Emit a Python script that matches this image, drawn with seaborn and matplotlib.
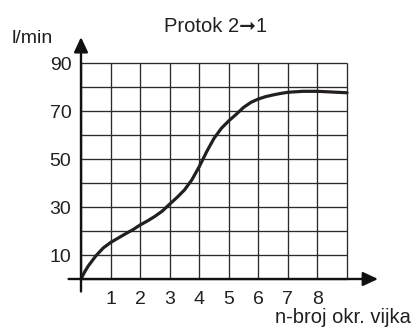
import numpy as np
import pandas as pd
import matplotlib
matplotlib.use("Agg")
import matplotlib.pyplot as plt
import seaborn as sns

# Flow vs. number of screw turns (flow direction 2 -> 1)
turns = [0, 0.125, 0.25, 0.5, 0.75, 1, 1.25, 1.5, 1.75, 2, 2.25, 2.5, 2.75, 3,
         3.25, 3.5, 3.75, 4, 4.25, 4.5, 4.75, 5, 5.25, 5.5, 5.75, 6, 6.25, 6.5,
         6.75, 7, 7.5, 8, 8.5, 9]
flow = [0, 3, 5.5, 9.6, 12.9, 15.2, 17.0, 18.8, 20.5, 22.5, 24.2, 26.1, 28.3, 31.2,
        34, 37.1, 41.3, 46.8, 53, 58.6, 62.8, 65.9, 68.6, 71.5, 73.6, 75, 76, 76.7,
        77.3, 77.8, 78.2, 78.2, 77.9, 77.6]

x_tick_labels = [1, 2, 3, 4, 5, 6, 7, 8]
y_tick_labels = [10, 30, 50, 70, 90]
x_grid = list(range(0, 10))
y_grid = list(range(0, 100, 10))

title = "Protok 2\u279e1"
ylabel = "l/min"
xlabel = "n-broj okr. vijka"

sns.set_style("white")
plt.rcParams["font.family"] = ["Liberation Sans", "DejaVu Sans"]

df = pd.DataFrame({"n": turns, "q": flow})

W, H = 412, 327
fig = plt.figure(figsize=(W / 100, H / 100), dpi=100)
x0, x1 = 81, 347
y0, y1 = 279, 63
ax = fig.add_axes([x0 / W, (H - y0) / H, (x1 - x0) / W, (y0 - y1) / H])

ax.set_xlim(0, 9)
ax.set_ylim(0, 90)

# square grid
grid_kw = dict(color="#2b2b2b", linewidth=0.95, clip_on=False, zorder=1)
ax.vlines(x_grid, 0, 90, **grid_kw)
ax.hlines(y_grid, 0, 9, **grid_kw)

sns.lineplot(data=df, x="n", y="q", ax=ax, color="#231f20", linewidth=2.3,
             zorder=5, clip_on=False, solid_joinstyle="round",
             solid_capstyle="round")

ax.set_xticks(x_tick_labels)
ax.set_xticklabels([str(v) for v in x_tick_labels])
ax.set_yticks(y_tick_labels)
ax.set_yticklabels([str(v) for v in y_tick_labels])
ax.tick_params(which="both", length=0, labelsize=14, colors="#231f20")
ax.tick_params(axis="x", pad=9)
ax.tick_params(axis="y", pad=7)
ax.set_xlabel("")
ax.set_ylabel("")
ax.grid(False)

for s in ax.spines.values():
    s.set_visible(False)

# axes with arrowheads
arrow = dict(arrowstyle="-|>,head_length=0.6,head_width=0.28", lw=1.7,
             color="#111111", mutation_scale=15, shrinkA=0, shrinkB=0)
ax.annotate("", xy=(10.05, 0), xytext=(-0.42, 0), arrowprops=arrow,
            annotation_clip=False, zorder=6)
ax.annotate("", xy=(0, 100.8), xytext=(0, -5.2), arrowprops=arrow,
            annotation_clip=False, zorder=6)

fig.text(164 / W, 1 - 32 / H, title, fontsize=14.5, color="#231f20",
         ha="left", va="baseline")
fig.text(12 / W, 1 - 43 / H, ylabel, fontsize=14, color="#231f20",
         ha="left", va="baseline")
fig.text(411 / W, 1 - 323 / H, xlabel, fontsize=14.5, color="#231f20",
         ha="right", va="baseline")

fig.savefig("out.png", dpi=100, facecolor="white")
